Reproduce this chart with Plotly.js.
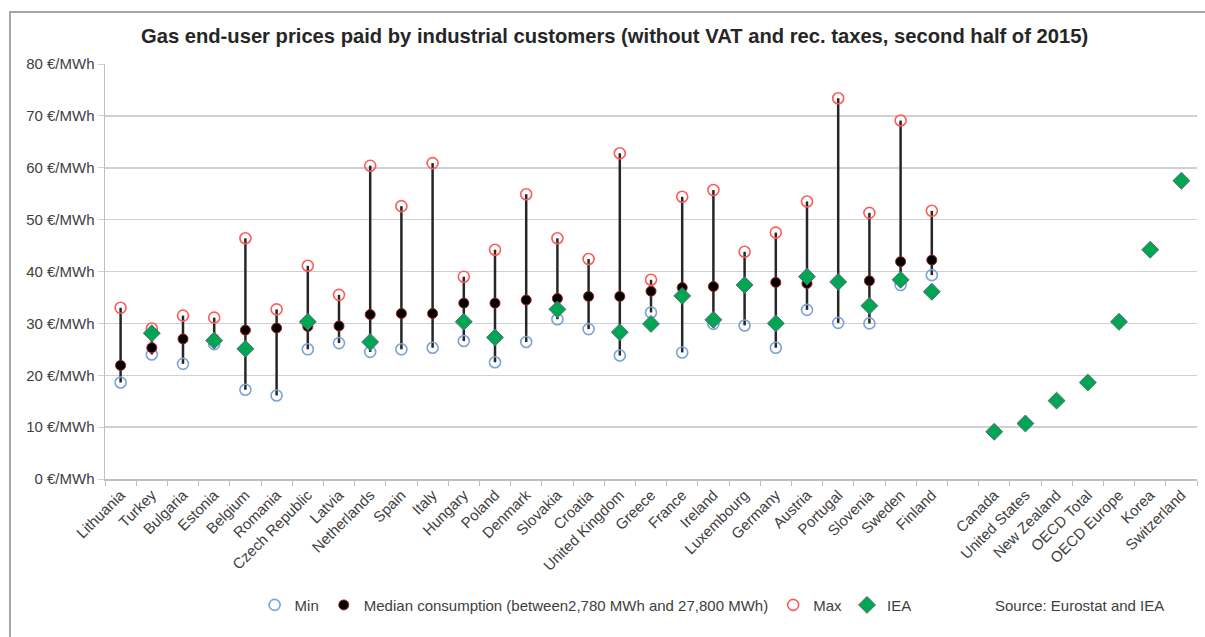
<!DOCTYPE html>
<html>
<head>
<meta charset="utf-8">
<script src="https://cdn.plot.ly/plotly-3.0.1.min.js"></script>
<style>
  html, body { margin: 0; padding: 0; background: #fff; }
  #chart { width: 1205px; height: 637px; }
  #frame { position: absolute; left: 9px; top: 11px; width: 1200px; height: 630px;
           border-left: 2px solid #a6a6a6; border-top: 2px solid #a6a6a6; pointer-events: none; }
</style>
</head>
<body>
<div id="chart"></div>
<div id="frame"></div>
<script>
// Eurostat countries (min / median / max) and IEA values
const countries = ["Lithuania","Turkey","Bulgaria","Estonia","Belgium","Romania","Czech Republic","Latvia",
  "Netherlands","Spain","Italy","Hungary","Poland","Denmark","Slovakia","Croatia","United Kingdom","Greece",
  "France","Ireland","Luxembourg","Germany","Austria","Portugal","Slovenia","Sweden","Finland"];
const minVals    = [18.6,24.0,22.2,26.0,17.2,16.1,25.0,26.2,24.5,25.0,25.3,26.6,22.5,26.4,30.8,28.9,23.8,32.1,24.4,29.9,29.6,25.3,32.6,30.1,30.0,37.4,39.3];
const medianVals = [21.9,25.3,27.0,27.0,28.7,29.1,29.4,29.5,31.7,31.9,31.9,33.9,33.9,34.5,34.8,35.2,35.2,36.2,36.9,37.1,37.3,37.9,37.7,38.0,38.2,41.9,42.2];
const maxVals    = [33.0,29.0,31.5,31.1,46.4,32.7,41.1,35.5,60.4,52.6,60.9,39.0,44.2,54.9,46.4,42.4,62.8,38.4,54.4,55.7,43.8,47.5,53.5,73.4,51.3,69.1,51.7];
const ieaEU      = [null,28.1,null,26.7,25.1,null,30.3,null,26.4,null,null,30.3,27.3,null,32.7,null,28.3,29.9,35.3,30.7,37.4,30.0,39.0,38.0,33.4,38.4,36.1];
// IEA-only countries / aggregates
const ieaOnlyNames = ["Canada","United States","New Zealand","OECD Total","OECD Europe","Korea","Switzerland"];
const ieaOnlyVals  = [9.1,10.7,15.1,18.6,30.3,44.2,57.5];

const labels = countries.concat([""], ieaOnlyNames);
const pos = labels.map((_, i) => i);
const xEU = countries.map((_, i) => i);
const xOnly = ieaOnlyNames.map((_, i) => countries.length + 1 + i);

// vertical min-max lines
const lx = [], ly = [];
xEU.forEach((x, i) => { lx.push(x, x, null); ly.push(minVals[i], maxVals[i], null); });

const traces = [
  { x: lx, y: ly, mode: 'lines', line: {color: '#262626', width: 2.5}, showlegend: false, hoverinfo: 'skip' },
  { x: xEU, y: minVals, mode: 'markers', name: 'Min',
    marker: {symbol: 'circle-open', size: 11, color: '#7aa3d6', line: {width: 1.6}} },
  { x: xEU, y: medianVals, mode: 'markers', name: 'Median consumption (between2,780 MWh and 27,800 MWh)',
    marker: {symbol: 'circle', size: 10, color: '#000000', line: {color: '#a02020', width: 1}} },
  { x: xEU, y: maxVals, mode: 'markers', name: 'Max',
    marker: {symbol: 'circle-open', size: 11, color: '#ff5a5a', line: {width: 1.6}} },
  { x: xEU.concat(xOnly), y: ieaEU.concat(ieaOnlyVals), mode: 'markers', name: 'IEA',
    marker: {symbol: 'diamond', size: 13, color: '#00a651', line: {color: '#5a6a7a', width: 1}} }
];

const minorTicks = [];
for (let i = 0; i <= labels.length; i++) minorTicks.push(i - 0.5);

const layout = {
  width: 1205, height: 637,
  margin: {l: 105, r: 8, t: 64, b: 158},
  paper_bgcolor: '#ffffff', plot_bgcolor: '#ffffff',
  font: {family: 'Liberation Sans, Arial, sans-serif', size: 15, color: '#404040'},
  title: {text: 'Gas end-user prices paid by industrial customers (without VAT and rec. taxes, second half of 2015)',
          font: {family: 'Liberation Sans, Arial, sans-serif', size: 20.2, color: '#262626', weight: 'bold'},
          x: 0.51, xanchor: 'center', y: 0.943, yanchor: 'middle'},
  xaxis: {range: [-0.5, labels.length - 0.5], tickmode: 'array', tickvals: pos, ticktext: labels,
          tickangle: -45, ticks: '', showgrid: false, zeroline: false,
          showline: true, linecolor: '#bfbfbf', linewidth: 1.5,
          tickfont: {size: 15, color: '#404040'},
          minor: {tickmode: 'array', tickvals: minorTicks, ticks: 'outside', ticklen: 5, tickcolor: '#bfbfbf', showgrid: false}},
  yaxis: {range: [0, 80], dtick: 10, ticksuffix: ' €/MWh', showgrid: true, gridcolor: '#d0d0d0', gridwidth: 1.5,
          zeroline: false, showline: true, linecolor: '#bfbfbf', linewidth: 1.5,
          ticks: 'outside', ticklen: 6, tickcolor: '#d0d0d0', tickfont: {size: 15, color: '#404040'}},
  showlegend: true,
  legend: {orientation: 'h', x: 0.137, xanchor: 'left', y: -0.304, yanchor: 'middle',
           font: {size: 15, color: '#404040'}, itemwidth: 30, tracegroupgap: 0},
  annotations: [{text: 'Source: Eurostat and IEA', xref: 'paper', yref: 'paper', x: 0.9716, y: -0.304,
                 xanchor: 'right', yanchor: 'middle', showarrow: false, font: {size: 15, color: '#404040'}}]
};

Plotly.newPlot('chart', traces, layout, {displayModeBar: false, staticPlot: true});
</script>
</body>
</html>
